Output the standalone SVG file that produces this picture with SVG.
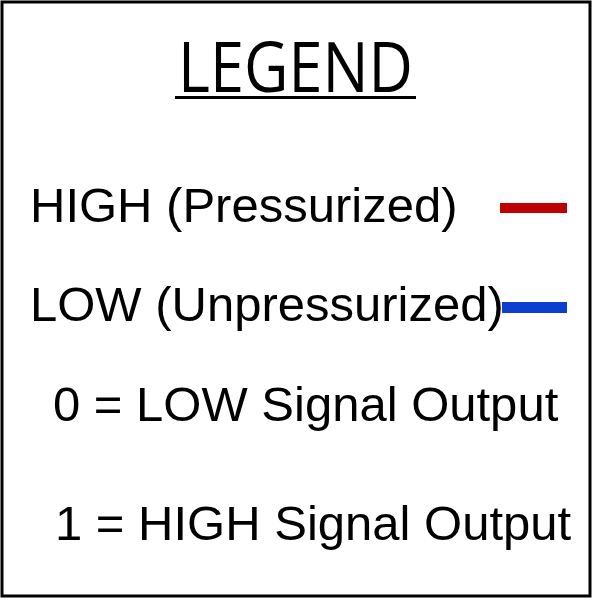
<svg xmlns="http://www.w3.org/2000/svg" width="600" height="600" viewBox="0 0 600 600">
<style>
.t{font-family:"Liberation Sans",Arial,sans-serif;font-size:49px;fill:#000}
.title{font-family:"Open Sans","Noto Sans",sans-serif;font-size:70px;fill:#000}
</style>
<rect x="0" y="0" width="600" height="600" fill="#fff"/>
<g id="frame"><rect x="2" y="2" width="588" height="594" fill="#fff" stroke="#000" stroke-width="3"/></g>
<g id="title">
<text class="title" x="178" y="92" textLength="235" lengthAdjust="spacingAndGlyphs">LEGEND</text>
<rect x="175" y="96" width="241" height="3" fill="#000"/>
</g>
<g id="high">
<text class="t" x="30" y="222">HIGH (Pressurized)</text>
<rect x="500" y="203" width="67" height="10" fill="#c00000"/>
</g>
<g id="low">
<text class="t" x="30" y="321">LOW (Unpressurized)</text>
<rect x="502" y="302" width="65" height="11" fill="#0a3fd0"/>
</g>
<g id="zero"><text class="t" x="53" y="421">0 = LOW Signal Output</text></g>
<g id="one"><text class="t" x="55" y="540">1 = HIGH Signal Output</text></g>
</svg>
